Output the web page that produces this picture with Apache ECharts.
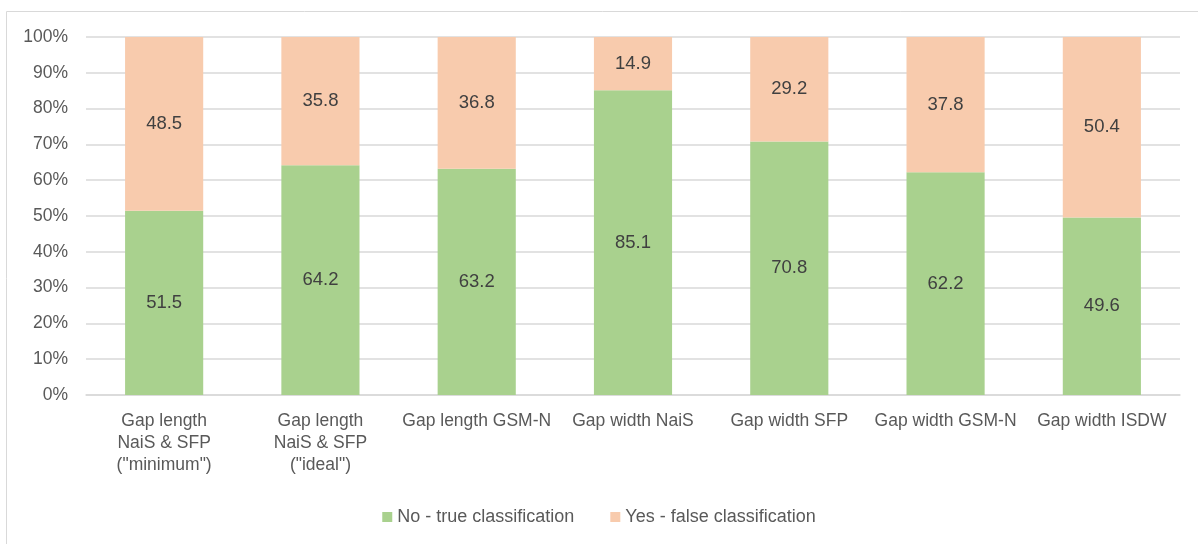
<!DOCTYPE html>
<html>
<head>
<meta charset="utf-8">
<script src="https://cdn.jsdelivr.net/npm/echarts@6/dist/echarts.min.js"></script>
<style>
  html, body { margin: 0; padding: 0; background: #fff; }
  #main { width: 1198px; height: 544px; }
</style>
</head>
<body>
<div id="main"></div>
<script>
// categories (x axis)
var categories = [
  'Gap length\nNaiS & SFP\n("minimum")',
  'Gap length\nNaiS & SFP\n("ideal")',
  'Gap length GSM-N',
  'Gap width NaiS',
  'Gap width SFP',
  'Gap width GSM-N',
  'Gap width ISDW'
];
var trueClass = [51.5, 64.2, 63.2, 85.1, 70.8, 62.2, 49.6];
var falseClass = [48.5, 35.8, 36.8, 14.9, 29.2, 37.8, 50.4];

var font = 'Liberation Sans';
var chart = echarts.init(document.getElementById('main'));

var labelStyle = {
  show: true,
  position: 'inside',
  color: '#404040',
  fontSize: 18.5,
  fontFamily: font,
  formatter: function (p) { return p.value.toFixed(1); }
};

chart.setOption({
  animation: false,
  graphic: [{
    type: 'rect',
    shape: { x: 6.5, y: 11.5, width: 1200, height: 560 },
    style: { fill: 'none', stroke: '#d9d9d9', lineWidth: 1 },
    silent: true
  }],
  legend: {
    bottom: 13,
    left: 'center',
    itemWidth: 10,
    itemHeight: 10,
    itemGap: 36,
    icon: 'rect',
    textStyle: { color: '#595959', fontSize: 18, fontFamily: font },
    data: ['No - true classification', 'Yes - false classification']
  },
  grid: { left: 86, right: 18, top: 37, bottom: 149 },
  xAxis: {
    type: 'category',
    data: categories,
    axisTick: { show: false },
    axisLine: { lineStyle: { color: '#d9d9d9', width: 1.5 } },
    axisLabel: {
      color: '#595959',
      fontSize: 17.5,
      fontFamily: font,
      lineHeight: 22,
      margin: 15,
      interval: 0
    }
  },
  yAxis: {
    type: 'value',
    min: 0,
    max: 100,
    interval: 10,
    axisLabel: {
      formatter: '{value}%',
      color: '#595959',
      fontSize: 17.5,
      fontFamily: font,
      margin: 18
    },
    splitLine: { lineStyle: { color: '#d9d9d9', width: 1.5 } },
    axisLine: { show: false },
    axisTick: { show: false }
  },
  series: [
    {
      name: 'No - true classification',
      type: 'bar',
      stack: 'total',
      barWidth: '50%',
      itemStyle: { color: '#A9D18E' },
      label: labelStyle,
      data: trueClass
    },
    {
      name: 'Yes - false classification',
      type: 'bar',
      stack: 'total',
      barWidth: '50%',
      itemStyle: { color: '#F8CBAD' },
      label: labelStyle,
      data: falseClass
    }
  ]
});
</script>
</body>
</html>
